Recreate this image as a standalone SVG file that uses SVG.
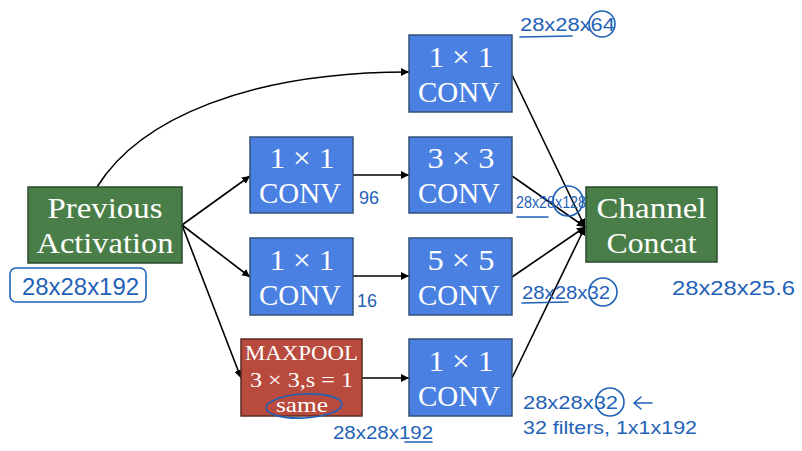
<svg xmlns="http://www.w3.org/2000/svg" width="802" height="451" viewBox="0 0 802 451">
<defs>
<marker id="ah" viewBox="0 0 10 10" refX="10" refY="5" markerWidth="8" markerHeight="8" orient="auto" markerUnits="userSpaceOnUse">
<path d="M0,0 L10,5 L0,10 z" fill="#000"/>
</marker>
<style>
.blue{fill:#4a80e2;stroke:#34507a;stroke-width:1.5}
.green{fill:#4a7e48;stroke:#2e4a2e;stroke-width:1.5}
.red{fill:#b84b3d;stroke:#5a2a22;stroke-width:1.5}
.t{font-family:"Liberation Serif","Times New Roman",serif;fill:#fff;text-anchor:middle;font-size:29px}
.ts{font-family:"Liberation Serif","Times New Roman",serif;fill:#fff;text-anchor:middle;font-size:22px}
.c{fill:none;stroke:#000;stroke-width:1.6;marker-end:url(#ah)}
.h{font-family:"Liberation Sans","DejaVu Sans",sans-serif;fill:#1f62b8}
.hs{fill:none;stroke:#1f62b8;stroke-width:1.6;stroke-linecap:round;stroke-linejoin:round}
</style>
</defs>
<rect width="802" height="451" fill="#fff"/>

<g id="connectors">
<path class="c" d="M97,187 C140,118 250,72 409,72"/>
<path class="c" d="M182,225 L250,176"/>
<path class="c" d="M182,225 L250,277"/>
<path class="c" d="M182,225 L241,378"/>
<path class="c" d="M353,175 L409,175"/>
<path class="c" d="M353,276 L409,276"/>
<path class="c" d="M362,378 L409,378"/>
<path class="c" d="M512,75 L585,227"/>
<path class="c" d="M512,176 L585,227"/>
<path class="c" d="M512,277 L585,227"/>
<path class="c" d="M512,378 L585,227"/>
</g>

<g id="prev">
<rect class="green" x="28" y="187" width="154" height="76"/>
<text class="t" x="105" y="218" textLength="115" lengthAdjust="spacingAndGlyphs">Previous</text>
<text class="t" x="105" y="253" textLength="137" lengthAdjust="spacingAndGlyphs">Activation</text>
</g>

<g id="conv1_top">
<rect class="blue" x="409" y="35" width="103" height="77"/>
<text class="t" x="461" y="67" textLength="65" lengthAdjust="spacingAndGlyphs">1 × 1</text>
<text class="t" x="459" y="102" textLength="82" lengthAdjust="spacingAndGlyphs">CONV</text>
</g>

<g id="conv1_a">
<rect class="blue" x="250" y="137" width="103" height="76"/>
<text class="t" x="302" y="168" textLength="65" lengthAdjust="spacingAndGlyphs">1 × 1</text>
<text class="t" x="300" y="203" textLength="82" lengthAdjust="spacingAndGlyphs">CONV</text>
</g>

<g id="conv3">
<rect class="blue" x="409" y="137" width="103" height="76"/>
<text class="t" x="461" y="168" textLength="67" lengthAdjust="spacingAndGlyphs">3 × 3</text>
<text class="t" x="459" y="203" textLength="82" lengthAdjust="spacingAndGlyphs">CONV</text>
</g>

<g id="conv1_b">
<rect class="blue" x="250" y="238" width="103" height="77"/>
<text class="t" x="302" y="270" textLength="65" lengthAdjust="spacingAndGlyphs">1 × 1</text>
<text class="t" x="300" y="305" textLength="82" lengthAdjust="spacingAndGlyphs">CONV</text>
</g>

<g id="conv5">
<rect class="blue" x="409" y="238" width="103" height="77"/>
<text class="t" x="461" y="270" textLength="67" lengthAdjust="spacingAndGlyphs">5 × 5</text>
<text class="t" x="459" y="305" textLength="82" lengthAdjust="spacingAndGlyphs">CONV</text>
</g>

<g id="maxpool">
<rect class="red" x="241" y="339" width="121" height="77"/>
<text class="ts" x="301.5" y="360" textLength="113" lengthAdjust="spacingAndGlyphs">MAXPOOL</text>
<text class="ts" x="301.5" y="387" textLength="103" lengthAdjust="spacingAndGlyphs">3 × 3,s = 1</text>
<text class="ts" x="302" y="412" textLength="52" lengthAdjust="spacingAndGlyphs">same</text>
</g>

<g id="conv1_c">
<rect class="blue" x="409" y="339" width="103" height="77"/>
<text class="t" x="461" y="371" textLength="65" lengthAdjust="spacingAndGlyphs">1 × 1</text>
<text class="t" x="459" y="406" textLength="82" lengthAdjust="spacingAndGlyphs">CONV</text>
</g>

<g id="concat">
<rect class="green" x="586" y="187" width="131" height="75"/>
<text class="t" x="651.5" y="218" textLength="110" lengthAdjust="spacingAndGlyphs">Channel</text>
<text class="t" x="651.5" y="253" textLength="90" lengthAdjust="spacingAndGlyphs">Concat</text>
</g>

<g id="annotations">
<rect class="hs" x="10" y="268" width="136" height="34" rx="6"/>
<text class="h" x="22" y="295" style="font-size:23px" textLength="117" lengthAdjust="spacingAndGlyphs">28x28x192</text>

<text class="h" x="520" y="31" style="font-size:18px" textLength="95" lengthAdjust="spacingAndGlyphs">28x28x64</text>
<circle class="hs" cx="602" cy="24" r="13"/>
<path class="hs" d="M520,37 L572,36"/>

<text class="h" x="516" y="208" style="font-size:17px" textLength="70" lengthAdjust="spacingAndGlyphs">28x28x128</text>
<circle class="hs" cx="568" cy="201" r="15"/>
<path class="hs" d="M517,217 L548,217"/>

<text class="h" x="522" y="299" style="font-size:19px" textLength="88" lengthAdjust="spacingAndGlyphs">28x28x32</text>
<circle class="hs" cx="603" cy="292" r="14"/>
<path class="hs" d="M522,303 L568,302"/>

<text class="h" x="672" y="295" style="font-size:20px" textLength="123" lengthAdjust="spacingAndGlyphs">28x28x25.6</text>

<text class="h" x="523" y="409" style="font-size:19px" textLength="95" lengthAdjust="spacingAndGlyphs">28x28x32</text>
<circle class="hs" cx="610" cy="402" r="14"/>
<path class="hs" d="M652,403 L634,403 M641,397 L634,403 L641,409"/>
<text class="h" x="523" y="434" style="font-size:19px" textLength="174" lengthAdjust="spacingAndGlyphs">32 filters, 1x1x192</text>

<text class="h" x="333" y="439" style="font-size:18px" textLength="100" lengthAdjust="spacingAndGlyphs">28x28x192</text>
<path class="hs" d="M405,442 L432,442"/>

<text class="h" x="359" y="204" style="font-size:18px">96</text>
<text class="h" x="357" y="307" style="font-size:18px">16</text>

<ellipse class="hs" cx="304" cy="406" rx="38" ry="12" transform="rotate(-3 304 406)"/>
</g>
</svg>
